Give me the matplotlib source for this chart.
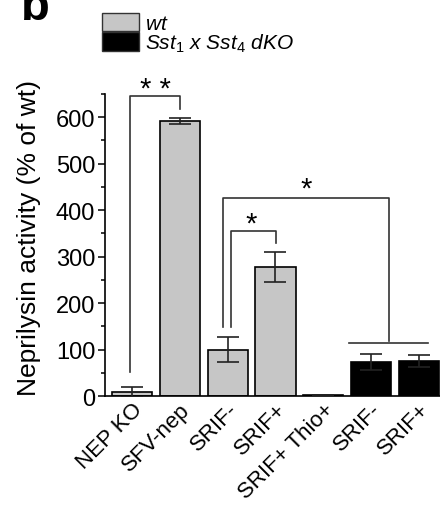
import matplotlib
matplotlib.use("Agg")
import matplotlib.pyplot as plt
from matplotlib.patches import Rectangle
from matplotlib.ticker import MultipleLocator

plt.rcParams['font.family'] = ['Liberation Sans', 'DejaVu Sans']
plt.rcParams['mathtext.fontset'] = 'custom'
plt.rcParams['mathtext.rm'] = 'Liberation Sans'
plt.rcParams['mathtext.it'] = 'Liberation Sans:italic'

categories = ["NEP KO", "SFV-nep", "SRIF-", "SRIF+", "SRIF+ Thio+", "SRIF-", "SRIF+"]
values = [9, 592, 100, 277, 3, 73, 76]
errors = [11, 7, 27, 32, 0, 18, 13]
genotype = ["wt", "wt", "wt", "wt", "wt", "dko", "dko"]
colors_map = {"wt": "#c6c6c6", "dko": "#000000"}

fig = plt.figure(figsize=(4.4, 5.06), dpi=100)
ax = fig.add_axes([0.2386, 0.2154, 0.7614, 0.5969])

x = list(range(len(categories)))
cols = [colors_map[g] for g in genotype]
ax.bar(x, values, width=0.84, color=cols, edgecolor='black', linewidth=1.2, zorder=2)
ax.errorbar(x, values, yerr=errors, fmt='none', ecolor='#222222', elinewidth=1.2,
            capsize=8, capthick=1.2, zorder=3)

ax.set_xlim(-0.565, 6.44)
ax.set_ylim(0, 650)
ax.yaxis.set_major_locator(MultipleLocator(100))
ax.yaxis.set_minor_locator(MultipleLocator(50))
ax.tick_params(axis='y', which='major', direction='out', length=5, width=1.1, labelsize=17, pad=2)
ax.tick_params(axis='y', which='minor', direction='out', length=3, width=1.1)
ax.tick_params(axis='x', length=0, pad=2)
ax.set_xticks(x)
ax.set_xticklabels(categories, rotation=45, ha='right', rotation_mode='anchor', fontsize=16)
ax.spines['top'].set_visible(False)
ax.spines['right'].set_visible(False)
ax.spines['left'].set_linewidth(1.2)
ax.spines['bottom'].set_linewidth(1.2)
ax.set_ylabel("Neprilysin activity (% of wt)", fontsize=19)
ax.yaxis.set_label_coords(-0.19, 0.525)

lc = '#333333'
lw = 1.2
# ** bracket
ax.plot([-0.04, -0.04, 1.0, 1.0], [52, 646, 646, 617], color=lc, lw=lw, clip_on=False)
ax.text(0.48, 630, "* *", ha='center', va='bottom', fontsize=21, clip_on=False)
# small * bracket
ax.plot([2.06, 2.06, 3.01, 3.01], [148, 355, 355, 329], color=lc, lw=lw)
ax.text(2.5, 340, "*", ha='center', va='bottom', fontsize=21)
# big * bracket
ax.plot([1.9, 1.9, 5.38, 5.38], [148, 427, 427, 119], color=lc, lw=lw)
ax.plot([4.54, 6.18], [115, 115], color=lc, lw=lw)
ax.text(3.64, 416, "*", ha='center', va='bottom', fontsize=21)

# legend
fig.patches.append(Rectangle((101.7/440, 1-31.7/506), 37/440, 17.7/506, transform=fig.transFigure,
                             facecolor=colors_map["wt"], edgecolor='#333333', linewidth=1.0))
fig.patches.append(Rectangle((101.7/440, 1-52/506), 37/440, 18.7/506, transform=fig.transFigure,
                             facecolor=colors_map["dko"], edgecolor='#333333', linewidth=1.0))
fig.text(145/440, 1-25/506, r"$wt$", fontsize=15, va='center', ha='left')
fig.text(145/440, 1-44/506, r"$Sst_1\ x\ Sst_4\ dKO$", fontsize=15, va='center', ha='left')

fig.text(21/440, 1-20/506, "b", fontsize=34, fontweight='bold', va='baseline', ha='left')

fig.savefig("out.png", dpi=100)
